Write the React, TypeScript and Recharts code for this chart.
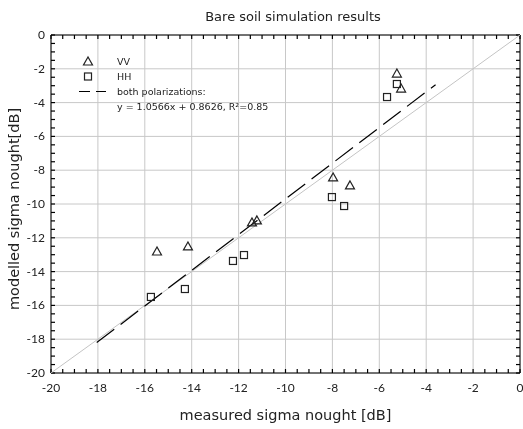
import React from 'react';
import { ComposedChart, Scatter, XAxis, YAxis, CartesianGrid } from 'recharts';

const vvX = [-15.48, -14.16, -11.43, -11.22, -7.97, -7.25, -5.25, -5.07];
const vvY = [-12.84, -12.54, -11.12, -11.0, -8.46, -8.93, -2.31, -3.2];
const hhX = [-15.74, -14.29, -12.24, -11.77, -8.02, -7.5, -5.67, -5.25];
const hhY = [-15.5, -15.03, -13.37, -13.02, -9.59, -10.12, -3.67, -2.9];
const regX = [-18.05, -3.6];
const regY = [-18.2, -2.94];
const diagX = [-20, 0];
const diagY = [-20, 0];
const majorTicks = [-20, -18, -16, -14, -12, -10, -8, -6, -4, -2, 0];
const allTicks: number[] = [];
for (let i = 0; i <= 40; i++) allTicks.push(-20 + i * 0.5);

const vvData = vvX.map((x, i) => ({ x, y: vvY[i] }));
const hhData = hhX.map((x, i) => ({ x, y: hhY[i] }));
const regData = regX.map((x, i) => ({ x, y: regY[i] }));
const diagData = diagX.map((x, i) => ({ x, y: diagY[i] }));

const FONT = 'Lato, "Open Sans", sans-serif';
const WIDE = '"DejaVu Sans", sans-serif';
const isMajor = (v: number) => Math.abs(v / 2 - Math.round(v / 2)) < 1e-6;
const TS = -4;

const BottomLabel = (p: any) => {
  const v = p.payload.value;
  if (!isMajor(v)) return <g />;
  return (
    <text x={p.x} y={p.y + 23} textAnchor="middle" fontSize={12} fontFamily={FONT} fill="#222">
      {v}
    </text>
  );
};
const LeftLabel = (p: any) => {
  const v = p.payload.value;
  if (!isMajor(v)) return <g />;
  return (
    <text x={p.x - 10} y={p.y + 4} textAnchor="end" fontSize={12} fontFamily={FONT} fill="#222">
      {v}
    </text>
  );
};
const NoLabel = () => <g />;

const Triangle = (p: any) => {
  const { cx, cy } = p;
  if (cx == null) return null;
  return (
    <polygon
      points={`${cx},${cy - 5} ${cx - 4.5},${cy + 3} ${cx + 4.5},${cy + 3}`}
      fill="none"
      stroke="#222"
      strokeWidth={1.2}
    />
  );
};
const Square = (p: any) => {
  const { cx, cy } = p;
  if (cx == null) return null;
  return <rect x={cx - 3.5} y={cy - 3.5} width={7} height={7} fill="none" stroke="#222" strokeWidth={1.2} />;
};
const NoShape = () => null;

const tickLineStyle = { stroke: '#000', strokeWidth: 1.2 };

export default function App() {
  return (
    <div style={{ position: 'fixed', left: 0, top: 0, width: 523, height: 429, background: '#fff', fontFamily: FONT }}>
      <div
        style={{
          position: 'absolute',
          left: 0,
          width: 586,
          top: 9,
          textAlign: 'center',
          fontSize: 13,
          fontFamily: WIDE,
          color: '#222',
        }}
      >
        Bare soil simulation results
      </div>
      <ComposedChart width={523} height={429} margin={{ top: 34, right: 2, bottom: 0, left: 0 }}>
        <CartesianGrid stroke="#c8c8c8" strokeWidth={1} verticalValues={majorTicks} horizontalValues={majorTicks} />
        <XAxis
          type="number"
          dataKey="x"
          domain={[-20, 0]}
          ticks={allTicks}
          interval={0}
          height={56}
          tickSize={TS}
          tickMargin={0}
          tickLine={tickLineStyle}
          tick={BottomLabel}
          axisLine={{ stroke: '#000' }}
          allowDataOverflow
          label={{ value: 'measured sigma nought [dB]', position: 'insideBottom', offset: 9, fontSize: 14.5, fill: '#222', fontFamily: WIDE }}
        />
        <XAxis
          xAxisId="top"
          orientation="top"
          type="number"
          dataKey="x"
          domain={[-20, 0]}
          ticks={allTicks}
          interval={0}
          height={1}
          tickSize={TS}
          tickMargin={0}
          tickLine={tickLineStyle}
          tick={NoLabel}
          axisLine={{ stroke: '#000' }}
          allowDataOverflow
        />
        <YAxis
          type="number"
          dataKey="y"
          domain={[-20, 0]}
          ticks={allTicks}
          interval={0}
          width={51}
          tickSize={TS}
          tickMargin={0}
          tickLine={tickLineStyle}
          tick={LeftLabel}
          axisLine={{ stroke: '#000' }}
          allowDataOverflow
        />
        <YAxis
          yAxisId="right"
          orientation="right"
          type="number"
          dataKey="y"
          domain={[-20, 0]}
          ticks={allTicks}
          interval={0}
          width={1}
          tickSize={TS}
          tickMargin={0}
          tickLine={tickLineStyle}
          tick={NoLabel}
          axisLine={{ stroke: '#000' }}
          allowDataOverflow
        />
        <Scatter data={diagData} line={{ stroke: '#c4c4c4', strokeWidth: 1 }} shape={NoShape} isAnimationActive={false} />
        <Scatter
          data={regData}
          line={{ stroke: '#000', strokeWidth: 1.2, strokeDasharray: '22 8' }}
          shape={NoShape}
          isAnimationActive={false}
        />
        <Scatter data={vvData} shape={Triangle} isAnimationActive={false} />
        <Scatter data={hhData} shape={Square} isAnimationActive={false} />
      </ComposedChart>
      <svg width={30} height={429} style={{ position: 'absolute', left: 0, top: 0 }}>
        <text
          transform="translate(19,209) rotate(-90)"
          textAnchor="middle"
          fontSize={14.5}
          fontFamily={WIDE}
          fill="#222"
        >
          modelled sigma nought[dB]
        </text>
      </svg>
      <div style={{ position: 'absolute', left: 76, top: 54, fontSize: 9.5, fontFamily: WIDE, color: '#222', lineHeight: '15px' }}>
        <div style={{ display: 'flex', alignItems: 'center' }}>
          <svg width={30} height={15}>
            <polygon points="12,3 7.5,11 16.5,11" fill="none" stroke="#222" strokeWidth={1.2} />
          </svg>
          <span style={{ marginLeft: 11 }}>VV</span>
        </div>
        <div style={{ display: 'flex', alignItems: 'center' }}>
          <svg width={30} height={15}>
            <rect x={8.5} y={4} width={7} height={7} fill="none" stroke="#222" strokeWidth={1.2} />
          </svg>
          <span style={{ marginLeft: 11 }}>HH</span>
        </div>
        <div style={{ display: 'flex', alignItems: 'center' }}>
          <svg width={30} height={15}>
            <line x1={3} x2={30} y1={7.5} y2={7.5} stroke="#000" strokeWidth={1.2} strokeDasharray="11 6" />
          </svg>
          <span style={{ marginLeft: 11 }}>both polarizations:</span>
        </div>
        <div style={{ marginLeft: 41 }}>y = 1.0566x + 0.8626, R²=0.85</div>
      </div>
    </div>
  );
}
